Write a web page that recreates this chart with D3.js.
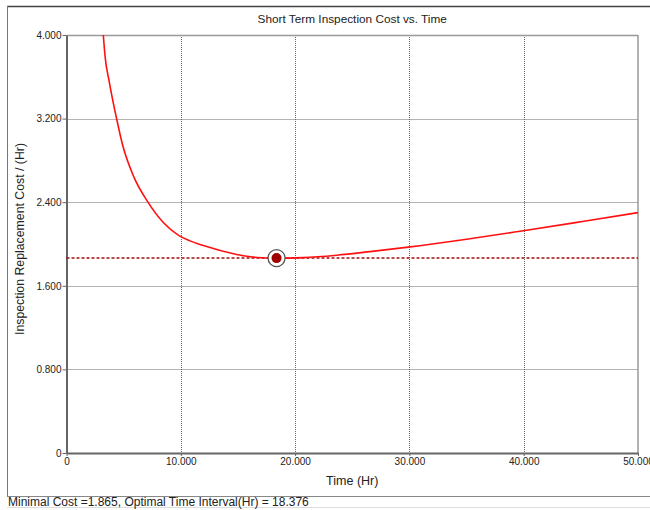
<!DOCTYPE html>
<html>
<head>
<meta charset="utf-8">
<script src="https://cdn.jsdelivr.net/npm/d3@7"></script>
<style>
  body { margin: 0; background: #fff; }
  text { font-family: "Liberation Sans", Arial, sans-serif; fill: #222; }
</style>
</head>
<body>
<svg id="chart" width="650" height="510"></svg>
<script>
// values
const timeHr = [3220, 3370, 3745, 4390, 4880, 5900, 7070, 8470, 9840, 10800, 11970, 14890, 16340, 18376, 20720, 23640, 26550, 29900, 35000, 39970, 45000, 50000];
const costPerHr = [4.000, 3.800, 3.550, 3.196, 2.960, 2.640, 2.410, 2.205, 2.080, 2.030, 1.985, 1.900, 1.874, 1.865, 1.870, 1.893, 1.927, 1.970, 2.045, 2.127, 2.213, 2.300];
const xTicks = [0, 10000, 20000, 30000, 40000, 50000];
const yTicks = [0, 0.8, 1.6, 2.4, 3.2, 4.0];
const minCost = 1.865;
const optTime = 18376;

const svg = d3.select('#chart');
const plotLeft = 66.5, plotRight = 638, plotTop = 35, plotBottom = 453;

const x = d3.scaleLinear().domain([0, 50000]).range([plotLeft, plotRight]);
const y = d3.scaleLinear().domain([0, 4]).range([plotBottom, plotTop]);

function fmt(v) {
  if (v === 0) return '0';
  return d3.format('.3f')(v >= 1000 ? v / 1000 : v);
}

// outer frame
svg.append('line').attr('x1', 7).attr('x2', 650).attr('y1', 6.5).attr('y2', 6.5)
  .attr('stroke', '#444').attr('stroke-width', 1.5);
svg.append('line').attr('x1', 7.5).attr('x2', 7.5).attr('y1', 6).attr('y2', 497)
  .attr('stroke', '#777').attr('stroke-width', 1);
svg.append('line').attr('x1', 7).attr('x2', 650).attr('y1', 496.5).attr('y2', 496.5)
  .attr('stroke', '#888').attr('stroke-width', 1.2);
svg.append('line').attr('x1', 7).attr('x2', 650).attr('y1', 507.5).attr('y2', 507.5)
  .attr('stroke', '#ddd').attr('stroke-width', 1);

// grid
const grid = svg.append('g');
grid.selectAll('.vg').data(xTicks.slice(1, -1)).join('line')
  .attr('x1', d => Math.round(x(d)) + 0.5).attr('x2', d => Math.round(x(d)) + 0.5)
  .attr('y1', plotTop).attr('y2', plotBottom)
  .attr('stroke', '#666').attr('stroke-dasharray', '1,1');
grid.selectAll('.hg').data(yTicks.slice(1, -1)).join('line')
  .attr('x1', plotLeft).attr('x2', plotRight)
  .attr('y1', d => Math.round(y(d)) + 0.5).attr('y2', d => Math.round(y(d)) + 0.5)
  .attr('stroke', '#666').attr('stroke-dasharray', '1,1');

// plot border
svg.append('line').attr('x1', plotLeft).attr('x2', plotRight).attr('y1', plotTop + 0.5).attr('y2', plotTop + 0.5)
  .attr('stroke', '#999').attr('stroke-width', 1.5);
svg.append('line').attr('x1', plotRight).attr('x2', plotRight).attr('y1', plotTop).attr('y2', plotBottom)
  .attr('stroke', '#999').attr('stroke-width', 1.5);

// axes
const xAxis = d3.axisBottom(x).tickValues(xTicks).tickFormat(fmt).tickSize(3).tickSizeOuter(0);
const yAxis = d3.axisLeft(y).tickValues(yTicks).tickFormat(fmt).tickSize(4).tickSizeOuter(0);

const gx = svg.append('g').attr('transform', `translate(0,${plotBottom})`).call(xAxis);
const gy = svg.append('g').attr('transform', `translate(${plotLeft},0)`).call(yAxis);
[gx, gy].forEach(g => {
  g.select('.domain').attr('stroke', '#666').attr('stroke-width', 2);
  g.selectAll('.tick line').attr('stroke', '#666');
  g.selectAll('.tick text').attr('font-size', 10).attr('fill', '#333')
    .style('font-family', '"Liberation Sans", Arial, sans-serif');
});
gx.selectAll('.tick text').attr('y', 5);
gy.selectAll('.tick text').attr('x', -5);

// min cost reference line
svg.append('line').attr('x1', plotLeft).attr('x2', plotRight)
  .attr('y1', y(minCost)).attr('y2', y(minCost))
  .attr('stroke', '#a01010').attr('stroke-width', 1.5).attr('stroke-dasharray', '3,2');

// cost curve
const pts = timeHr.map((t, i) => [t, costPerHr[i]]);
svg.append('path').datum(pts)
  .attr('fill', 'none').attr('stroke', '#ff1010').attr('stroke-width', 1.6)
  .attr('d', d3.line().x(d => x(d[0])).y(d => y(d[1])).curve(d3.curveMonotoneX));

// optimum marker
svg.append('circle').attr('cx', x(optTime)).attr('cy', y(minCost)).attr('r', 8.5)
  .attr('fill', '#fff').attr('stroke', '#555').attr('stroke-width', 1.3);
svg.append('circle').attr('cx', x(optTime)).attr('cy', y(minCost)).attr('r', 5)
  .attr('fill', '#a00000');

// titles
svg.append('text').attr('x', (plotLeft + plotRight) / 2).attr('y', 23).attr('text-anchor', 'middle')
  .attr('font-size', 11.8).text('Short Term Inspection Cost vs. Time');
svg.append('text').attr('x', (plotLeft + plotRight) / 2).attr('y', 485).attr('text-anchor', 'middle')
  .attr('font-size', 12.5).text('Time (Hr)');
svg.append('text').attr('transform', 'translate(24,239) rotate(-90)').attr('text-anchor', 'middle')
  .attr('font-size', 12.3).text('Inspection Replacement Cost / (Hr)');

// status bar
svg.append('text').attr('x', 8).attr('y', 506).attr('font-size', 12)
  .text(`Minimal Cost =${minCost}, Optimal Time Interval(Hr) = ${optTime / 1000}`);
</script>
</body>
</html>
